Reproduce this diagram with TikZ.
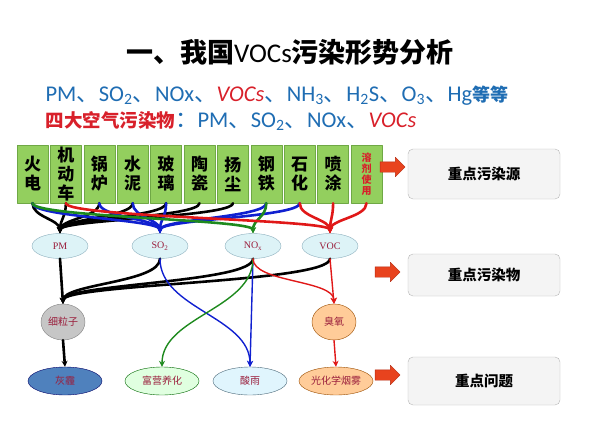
\documentclass[tikz,border=0pt]{standalone}
\usepackage{fontspec}
\setmainfont{Liberation Serif}
\newfontfamily\cjk{Noto Sans CJK SC}
\newfontfamily\latin{Carlito}
\usetikzlibrary{arrows.meta}
\usetikzlibrary{shapes.geometric}
\usetikzlibrary{shapes.arrows}

\definecolor{srcgreen}{HTML}{93CF5E}
\definecolor{srcedge}{HTML}{6FA845}
\definecolor{gasfill}{HTML}{DDF3F7}
\definecolor{gasedge}{HTML}{8DAFBD}
\definecolor{labred}{HTML}{9A1E3C}
\definecolor{textblue}{HTML}{1F6DB3}
\definecolor{textred}{HTML}{D8202A}
\definecolor{keyfill}{HTML}{F4F4F4}
\definecolor{keyedge}{HTML}{B5B5B5}
\definecolor{arrowred}{HTML}{E8431E}
\definecolor{arrowedge}{HTML}{B52A10}
\definecolor{lineblue}{HTML}{1020D0}
\definecolor{linegreen}{HTML}{1E8A1E}
\definecolor{linered}{HTML}{E01818}
\definecolor{hazefill}{HTML}{4F81BD}

\begin{document}
\begin{tikzpicture}[x=1pt,y=-1pt,line cap=round,line join=round,
    srcbox/.style={draw=srcedge,fill=srcgreen,minimum width=31pt,minimum height=58pt,
        inner sep=0pt,align=center,font=\cjk\bfseries\fontsize{17}{19}\selectfont},
    gas/.style={ellipse,draw=gasedge,fill=gasfill,minimum width=56pt,minimum height=25pt,
        inner sep=0pt,text=labred,font=\fontsize{10}{12}\selectfont},
    middle/.style={ellipse,draw,minimum width=44pt,minimum height=36pt,inner sep=0pt,
        text=labred,font=\cjk\fontsize{10}{12}\selectfont},
    effect/.style={ellipse,draw,minimum width=74pt,minimum height=28pt,inner sep=0pt,
        text=labred,font=\cjk\fontsize{10}{12}\selectfont},
    keybox/.style={draw=keyedge,fill=keyfill,rounded corners=5pt,minimum width=152pt,
        font=\cjk\bfseries\fontsize{14.5}{16}\selectfont},
    redarrow/.style={single arrow,draw=arrowedge,fill=arrowred,minimum height=25pt,
        single arrow head extend=4.5pt,inner sep=5pt},
    flow/.style={-{Stealth[length=6pt,width=6pt]}},
    thin flow/.style={flow,line width=1.4pt},
    thick flow/.style={flow,line width=2.6pt}]
        \useasboundingbox (0,0) rectangle (597,428);

        % title and the two lines of pollutants
        \node[font=\cjk\bfseries\fontsize{27}{31}\selectfont] (title) at (290,52)
            {一、我国{\latin\mdseries VOCs}污染形势分析};
        \node[anchor=west,text=textblue,font=\latin\fontsize{22.5}{25}\selectfont] (all) at (42,96)
            {PM{\cjk 、}SO\textsubscript{2}{\cjk 、}NOx{\cjk 、}{\color{textred}\itshape VOCs}{\cjk 、}NH\textsubscript{3}{\cjk 、}H\textsubscript{2}S{\cjk 、}O\textsubscript{3}{\cjk 、}Hg{\cjk\bfseries\fontsize{18}{20}\selectfont 等等}};
        \node[anchor=west,text=textblue,font=\latin\fontsize{22.5}{25}\selectfont] (four) at (42,121)
            {{\cjk\bfseries\fontsize{18.5}{20}\selectfont\color{textred}四大空气污染物}{\cjk ：}PM{\cjk 、}SO\textsubscript{2}{\cjk 、}NOx{\cjk 、}{\color{textred}\itshape VOCs}};

        % sources
        \node[srcbox] (s1) at (32.5,174) {火\\电};
        \node[srcbox] (s2) at (65.9,174) {机\\动\\车};
        \node[srcbox] (s3) at (99.3,174) {锅\\炉};
        \node[srcbox] (s4) at (132.7,174) {水\\泥};
        \node[srcbox] (s5) at (166.1,174) {玻\\璃};
        \node[srcbox] (s6) at (199.5,174) {陶\\瓷};
        \node[srcbox] (s7) at (232.9,174) {扬\\尘};
        \node[srcbox] (s8) at (266.3,174) {钢\\铁};
        \node[srcbox] (s9) at (299.7,174) {石\\化};
        \node[srcbox] (s10) at (333.1,174) {喷\\涂};
        \node[srcbox,text=textred,font=\cjk\bfseries\fontsize{10}{11}\selectfont] (s11) at (366.5,174) {溶\\剂\\使\\用};

        % pollutants
        \node[gas] (pm) at (60,246) {PM};
        \node[gas] (so2) at (160,246) {SO\textsubscript{2}};
        \node[gas] (nox) at (253,246) {NO\textsubscript{x}};
        \node[gas] (voc) at (330,246) {VOC};

        % what they turn into
        \node[middle,fill=gray!45,draw=gray] (fine) at (63,322) {细粒子};
        \node[middle,fill=orange!40,draw=orange!60!black] (ozone) at (334,322) {臭氧};
        \node[effect,fill=hazefill,draw=blue!40!black] (haze) at (65,381) {灰霾};
        \node[effect,fill=green!12,draw=green!40!black] (eutro) at (162,381) {富营养化};
        \node[effect,fill=cyan!12,draw=cyan!40!black] (rain) at (250,381) {酸雨};
        \node[effect,fill=orange!40,draw=orange!60!black] (smog) at (336,381) {光化学烟雾};

        % key boxes on the right
        \node[keybox,minimum height=50pt] (key1) at (484,174) {重点污染源};
        \node[keybox,minimum height=42pt] (key2) at (484,275) {重点污染物};
        \node[keybox,minimum height=48pt] (key3) at (484,381) {重点问题};
        \node[redarrow] (a1) at (390,167) {};
        \node[redarrow] (a2) at (385,272) {};
        \node[redarrow] (a3) at (385,375) {};

        % sources to pollutants
        \draw[thick flow] (s1.south) .. controls +(0,14) and +(0,-14) .. (pm.north);
        \draw[thick flow] (s2.south) .. controls +(0,14) and +(0,-14) .. (pm.north);
        \draw[thick flow] (s3.south) .. controls +(0,14) and +(0,-14) .. (pm.north);
        \draw[thick flow] (s4.south) .. controls +(0,14) and +(0,-14) .. (pm.north);
        \draw[thick flow] (s5.south) .. controls +(0,14) and +(0,-14) .. (pm.north);
        \draw[thick flow] (s6.south) .. controls +(0,14) and +(0,-14) .. (pm.north);
        \draw[thick flow] (s7.south) .. controls +(0,14) and +(0,-14) .. (pm.north);
        \draw[thick flow,lineblue] (s1.south) .. controls +(0,14) and +(0,-14) .. (so2.north);
        \draw[thick flow,lineblue] (s3.south) .. controls +(0,14) and +(0,-14) .. (so2.north);
        \draw[thick flow,lineblue] (s4.south) .. controls +(0,14) and +(0,-14) .. (so2.north);
        \draw[thick flow,lineblue] (s5.south) .. controls +(0,14) and +(0,-14) .. (so2.north);
        \draw[thick flow,lineblue] (s8.south) .. controls +(0,14) and +(0,-14) .. (so2.north);
        \draw[thick flow,lineblue] (s9.south) .. controls +(0,14) and +(0,-14) .. (so2.north);
        \draw[thick flow,linegreen] (s1.south) .. controls +(0,14) and +(0,-14) .. (nox.north);
        \draw[thick flow,linegreen] (s8.south) .. controls +(0,14) and +(0,-14) .. (nox.north);
        \draw[thick flow,linered] (s2.south) .. controls +(0,14) and +(0,-14) .. (voc.north);
        \draw[thick flow,linered] (s9.south) .. controls +(0,14) and +(0,-14) .. (voc.north);
        \draw[thick flow,linered] (s10.south) .. controls +(0,14) and +(0,-14) .. (voc.north);
        \draw[thick flow,linered] (s11.south) .. controls +(0,14) and +(0,-14) .. (voc.north);

        % pollutants to secondary products
        \draw[thick flow] (pm.south) -- (fine.north);
        \draw[thick flow] (so2.south) .. controls +(0,24) and +(0,-20) .. (fine.north);
        \draw[thick flow] (nox.south) .. controls +(0,24) and +(0,-20) .. (fine.north);
        \draw[thick flow] (voc.south) .. controls +(0,24) and +(0,-20) .. (fine.north);
        \draw[thin flow,lineblue] (so2.south) .. controls +(0,50) and +(0,-50) .. (rain.north);
        \draw[thin flow,lineblue] (nox.south) -- (rain.north);
        \draw[thin flow,linegreen] (nox.south) .. controls +(0,50) and +(0,-50) .. (eutro.north);
        \draw[thin flow,linered] (nox.south) .. controls +(0,24) and +(0,-24) .. (ozone.north);
        \draw[thin flow,linered] (voc.south) -- (ozone.north);
        \draw[thick flow] (fine.south) -- (haze.north);
        \draw[thin flow,linered] (ozone.south) -- (smog.north);
    \end{tikzpicture}
\end{document}
